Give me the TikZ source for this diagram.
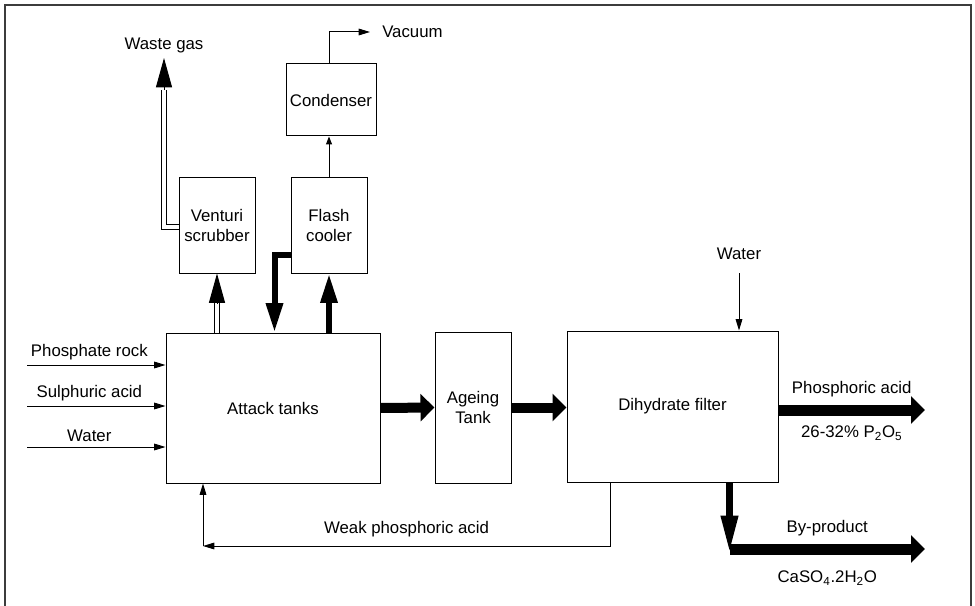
\documentclass[tikz,border=0pt]{standalone}
\usepackage{fontspec}
\setmainfont{Liberation Sans}
\usepackage{tikz}
\usetikzlibrary{arrows.meta,positioning}
\definecolor{framegray}{RGB}{60,60,60}

\begin{document}
\begin{tikzpicture}[x=0.75pt,y=-0.75pt,
    font=\fontsize{12.6}{15}\selectfont,
    unit/.style={draw,line width=0.75pt,align=center,inner sep=0pt},
    feed/.style={line width=0.75pt,-{Triangle[length=8.5pt,width=5pt]}},
    bigflow/.style={line width=7.5pt,-{Triangle[length=10.5pt,width=20pt]}},
    riser/.style={line width=4.5pt,-{Triangle[length=22pt,width=12pt]}},
    twin/.style={double,double distance=3pt,line width=0.75pt},
    twinhead/.style={line width=0.75pt,-{Triangle[length=22pt,width=12pt]}}]
    \useasboundingbox (0,0) rectangle (975,606);
    \draw[framegray,line width=1.5pt] (5,606) -- (5,5) -- (971,5) -- (971,606);

    % Process units
    \node[unit,minimum width=160.5pt,minimum height=112.5pt] (attack) at (273,408) {Attack tanks};
    \node[unit,minimum width=57pt,minimum height=113.25pt] (ageing) at (473,407.5) {Ageing\\Tank};
    \node[unit,minimum width=158.25pt,minimum height=113.25pt] (filter) at (672.5,406.5) {Dihydrate filter};
    \node[unit,minimum width=57pt,minimum height=71.25pt] (venturi) at (217,225.5) {Venturi\\scrubber};
    \node[unit,minimum width=57pt,minimum height=71.25pt] (flash) at (329,225.5) {Flash\\cooler};
    \node[unit,minimum width=67.5pt,minimum height=54pt] (condenser) at (331,100) {Condenser};

    % Feeds to the attack tanks
    \coordinate (rockin) at (27,365);
    \coordinate (acidin) at (27,406);
    \coordinate (waterin) at (27,447);
    \draw[feed] (rockin) -- (rockin -| attack.west) node[pos=0.45,above] {Phosphate rock};
    \draw[feed] (acidin) -- (acidin -| attack.west) node[pos=0.45,above] {Sulphuric acid};
    \draw[feed] (waterin) -- (waterin -| attack.west) node[pos=0.45,above] {Water};

    % Main slurry line
    \draw[bigflow] (attack.east) -- (ageing.west);
    \draw[bigflow] (ageing.east) -- (ageing.east -| filter.west);

    % Products
    \coordinate (acidout) at (925,410);
    \draw[bigflow,line width=8.25pt] (filter.east |- acidout) -- (acidout)
        node[midway,above=2pt] {Phosphoric acid}
        node[midway,below=4.5pt] {26-32\% P\textsubscript{2}O\textsubscript{5}};
    \coordinate (cakedrop) at (729.5,549);
    \coordinate (cakeout) at (925,549);
    \draw[line width=5pt,-{Triangle[length=28pt,width=12pt]}] (filter.south -| cakedrop) -- ([yshift=-3pt]cakedrop);
    \draw[bigflow,line width=8.25pt] (cakedrop) -- (cakeout)
        node[midway,above=2pt] {By-product}
        node[midway,below=9pt] {CaSO\textsubscript{4}.2H\textsubscript{2}O};

    % Wash water and weak acid recycle
    \coordinate (washin) at (739,273);
    \draw[feed] (washin) -- (washin |- filter.north) node[pos=0,above=6.5pt] {Water};
    \coordinate (weakturn) at (610,546);
    \coordinate (weakend) at (203,546);
    \draw[feed] (filter.south -| weakturn) -- (weakturn) -- (weakend)
        node[midway,above=3pt] {Weak phosphoric acid};
    \draw[feed] (weakend) -- (weakend |- attack.south);

    % Scrubber and waste gas
    \draw[twin] (attack.north -| venturi.south) -- ([yshift=-22pt]venturi.south);
    \draw[twinhead] ([yshift=-22pt]venturi.south) -- (venturi.south);
    \coordinate (gasup) at (164,90);
    \coordinate (gastip) at (164,58);
    \draw[twin] ([yshift=-1.5pt]venturi.west) -| (gasup);
    \draw[twinhead] (gasup) -- (gastip) node[above] {Waste gas};

    % Flash cooler loop and condenser
    \coordinate (coolback) at (274.5,255);
    \draw[riser] (flash.west |- coolback) -- (coolback) -- (coolback |- attack.north);
    \draw[riser] (attack.north -| flash.south) -- (flash.south);
    \draw[feed,-{Triangle[length=6pt,width=4.5pt]}] (flash.north) -- (flash.north |- condenser.south);
    \coordinate (vacturn) at (329,32);
    \coordinate (vacout) at (370,32);
    \draw[feed] (flash.north |- condenser.north) -- (vacturn) -- (vacout) node[right=5.5pt] {Vacuum};
\end{tikzpicture}
\end{document}
